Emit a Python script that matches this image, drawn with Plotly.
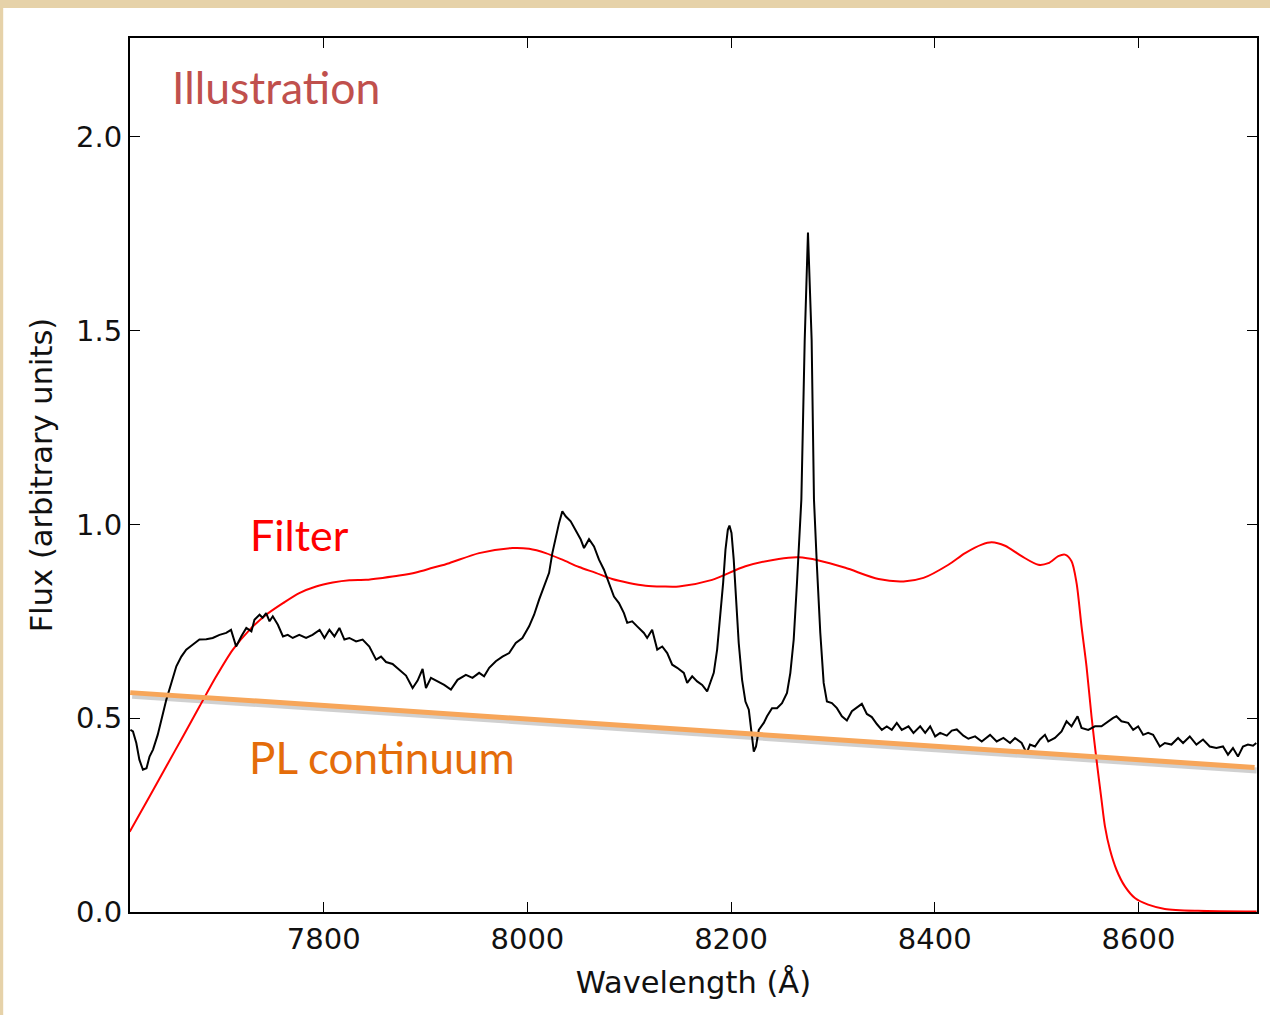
import plotly.graph_objects as go

# ---- Spectrum (black) ----
spec_wave = [7610.2, 7612.7, 7616.0, 7619.0, 7622.5, 7626.0, 7629.0, 7632.4, 7637.0, 7640.6,
             7645.5, 7650.4, 7655.3, 7660.2, 7665.0, 7671.6, 7678.0, 7684.7, 7691.0, 7697.7,
             7704.3, 7709.0, 7714.0, 7719.0, 7724.0, 7729.0, 7732.0, 7737.0, 7740.0, 7743.5,
             7746.8, 7750.0, 7755.0, 7760.0, 7764.7, 7769.6, 7776.0, 7782.7, 7789.0, 7796.0,
             7800.7, 7805.6, 7810.5, 7815.4, 7820.3, 7825.2, 7831.8, 7838.2, 7844.8, 7851.4,
             7856.3, 7861.2, 7867.6, 7874.2, 7880.8, 7887.3, 7892.2, 7897.1, 7900.4, 7905.3,
             7911.8, 7918.3, 7924.9, 7931.4, 7939.6, 7946.1, 7952.6, 7957.5, 7962.5, 7969.0,
             7975.5, 7982.1, 7988.6, 7995.1, 8001.7, 8006.6, 8011.5, 8016.4, 8021.3, 8024.5,
             8027.8, 8031.1, 8034.3, 8037.6, 8042.5, 8047.5, 8052.4, 8055.6, 8060.5, 8065.4,
             8070.3, 8075.2, 8080.1, 8085.0, 8089.9, 8094.8, 8098.0, 8102.9, 8107.8, 8114.4,
             8117.6, 8122.5, 8127.5, 8132.4, 8137.3, 8142.2, 8147.1, 8153.6, 8156.9, 8161.8,
             8166.7, 8171.6, 8176.5, 8179.8, 8183.0, 8186.3, 8189.6, 8192.2, 8194.5, 8196.8,
             8198.4, 8200.4, 8202.6, 8204.9, 8207.5, 8210.8, 8214.1, 8217.4, 8220.0, 8222.3,
             8224.5, 8227.2, 8232.1, 8235.3, 8240.2, 8245.1, 8250.0, 8254.9, 8258.2, 8261.5,
             8264.7, 8267.1, 8269.0, 8272.3, 8275.5, 8279.1, 8281.4, 8284.3, 8287.6, 8290.9,
             8294.1, 8299.0, 8303.9, 8308.8, 8313.7, 8318.6, 8323.5, 8328.4, 8333.3, 8338.2,
             8343.1, 8348.0, 8352.9, 8357.8, 8362.7, 8367.6, 8374.2, 8379.1, 8385.7, 8390.6,
             8395.5, 8400.4, 8405.3, 8411.8, 8416.7, 8421.6, 8428.1, 8433.0, 8439.6, 8446.1,
             8454.3, 8460.8, 8467.4, 8473.9, 8478.8, 8485.3, 8490.2, 8493.5, 8498.4, 8503.3,
             8508.2, 8511.5, 8518.0, 8524.5, 8529.4, 8534.3, 8540.2, 8544.1, 8550.7, 8557.3,
             8563.7, 8570.3, 8575.2, 8578.4, 8583.3, 8589.9, 8594.8, 8599.7, 8604.6, 8609.5,
             8614.4, 8621.0, 8625.9, 8632.4, 8638.9, 8643.8, 8650.4, 8656.9, 8663.4, 8670.0,
             8676.5, 8683.0, 8687.9, 8692.8, 8697.7, 8702.6, 8707.5, 8712.5, 8715.7]
spec_flux = [0.470, 0.466, 0.436, 0.393, 0.367, 0.371, 0.401, 0.419, 0.457, 0.496,
             0.548, 0.591, 0.634, 0.659, 0.677, 0.690, 0.703, 0.704, 0.707, 0.715,
             0.720, 0.728, 0.685, 0.711, 0.733, 0.724, 0.754, 0.767, 0.759, 0.771,
             0.750, 0.763, 0.741, 0.711, 0.715, 0.707, 0.715, 0.707, 0.715, 0.728,
             0.707, 0.728, 0.711, 0.733, 0.703, 0.707, 0.698, 0.703, 0.685, 0.651,
             0.659, 0.645, 0.640, 0.625, 0.610, 0.578, 0.597, 0.627, 0.578, 0.604,
             0.595, 0.586, 0.574, 0.599, 0.612, 0.604, 0.617, 0.608, 0.630, 0.647,
             0.659, 0.668, 0.694, 0.707, 0.737, 0.767, 0.806, 0.840, 0.875, 0.926,
             0.969, 1.004, 1.034, 1.021, 1.008, 0.986, 0.961, 0.939, 0.962, 0.943,
             0.909, 0.883, 0.849, 0.814, 0.797, 0.771, 0.746, 0.750, 0.737, 0.720,
             0.707, 0.728, 0.677, 0.685, 0.668, 0.638, 0.630, 0.617, 0.591, 0.608,
             0.595, 0.586, 0.569, 0.595, 0.617, 0.677, 0.763, 0.849, 0.935, 0.986,
             0.997, 0.978, 0.909, 0.806, 0.694, 0.599, 0.543, 0.522, 0.462, 0.414,
             0.427, 0.470, 0.488, 0.505, 0.526, 0.526, 0.539, 0.565, 0.617, 0.703,
             0.849, 0.978, 1.064, 1.476, 1.753, 1.476, 1.064, 0.892, 0.720, 0.591,
             0.543, 0.539, 0.526, 0.505, 0.494, 0.518, 0.528, 0.537, 0.511, 0.503,
             0.485, 0.470, 0.479, 0.470, 0.488, 0.470, 0.479, 0.462, 0.479, 0.462,
             0.479, 0.453, 0.462, 0.455, 0.468, 0.471, 0.455, 0.447, 0.453, 0.440,
             0.457, 0.440, 0.449, 0.436, 0.449, 0.436, 0.410, 0.432, 0.427, 0.445,
             0.457, 0.440, 0.449, 0.466, 0.492, 0.479, 0.505, 0.475, 0.470, 0.479,
             0.479, 0.492, 0.501, 0.505, 0.492, 0.488, 0.470, 0.479, 0.457, 0.462,
             0.457, 0.427, 0.436, 0.432, 0.449, 0.436, 0.453, 0.432, 0.445, 0.427,
             0.423, 0.427, 0.406, 0.423, 0.401, 0.427, 0.432, 0.429, 0.436]

# ---- Filter transmission (red) ----
filt_wave = [7609.5, 7629.0, 7645.5, 7661.8, 7678.0, 7694.5, 7710.8, 7727.2, 7743.5, 7760.0,
             7776.0, 7792.5, 7808.8, 7825.2, 7841.6, 7857.8, 7874.2, 7890.6, 7906.9, 7923.2,
             7952.6, 7985.3, 8001.7, 8018.0, 8034.3, 8050.7, 8067.1, 8083.3, 8099.7, 8116.1,
             8132.4, 8148.7, 8181.4, 8214.1, 8246.8, 8266.4, 8286.0, 8312.2, 8344.8, 8369.3,
             8388.9, 8413.4, 8429.8, 8446.1, 8455.9, 8469.0, 8485.3, 8501.7, 8511.5, 8521.3,
             8527.8, 8534.3, 8539.2, 8544.1, 8549.0, 8553.9, 8558.8, 8563.7, 8567.1, 8572.0,
             8578.4, 8586.7, 8596.5, 8609.5, 8625.9, 8658.5, 8716.0]
filt_flux = [0.207, 0.298, 0.376, 0.453, 0.530, 0.608, 0.677, 0.728, 0.767, 0.797,
             0.823, 0.840, 0.850, 0.856, 0.857, 0.862, 0.868, 0.876, 0.888, 0.900,
             0.926, 0.939, 0.937, 0.926, 0.909, 0.890, 0.875, 0.859, 0.849, 0.842,
             0.840, 0.840, 0.857, 0.892, 0.911, 0.915, 0.907, 0.888, 0.859, 0.853,
             0.862, 0.896, 0.926, 0.948, 0.954, 0.945, 0.918, 0.896, 0.900, 0.918,
             0.922, 0.905, 0.849, 0.737, 0.634, 0.505, 0.393, 0.290, 0.221, 0.161,
             0.109, 0.066, 0.036, 0.019, 0.008, 0.003, 0.001]

# ---- Power-law continuum (orange) ----
pl_wave = [7610.0, 8714.0]
pl_flux = [0.566, 0.373]

x_ticks = [7800, 8000, 8200, 8400, 8600]
y_ticks = [0.0, 0.5, 1.0, 1.5, 2.0]

fig = go.Figure()

# soft shadow under the continuum line
fig.add_trace(go.Scatter(x=[w + 2 for w in pl_wave], y=[f - 0.008 for f in pl_flux],
                         mode="lines", line=dict(color="rgba(120,120,120,0.35)", width=6),
                         hoverinfo="skip"))
fig.add_trace(go.Scatter(x=filt_wave, y=filt_flux, mode="lines",
                         line=dict(color="#ff0000", width=2, shape="spline", smoothing=0.8)))
fig.add_trace(go.Scatter(x=spec_wave, y=spec_flux, mode="lines",
                         line=dict(color="black", width=2)))
fig.add_trace(go.Scatter(x=pl_wave, y=pl_flux, mode="lines",
                         line=dict(color="#f7a65a", width=5)))

axis_common = dict(showline=True, linecolor="black", linewidth=2, mirror="ticks",
                   ticks="inside", ticklen=10, tickwidth=1, tickcolor="black",
                   showgrid=False, zeroline=False,
                   tickfont=dict(family="DejaVu Sans", size=29, color="#111111"))

fig.update_xaxes(range=[7609.8, 8716.4], tickvals=x_ticks,
                 title=dict(text="Wavelength (Å)", font=dict(family="DejaVu Sans", size=30.5, color="#111111"),
                            standoff=17),
                 **axis_common)
fig.update_yaxes(range=[0, 2.255], tickvals=y_ticks, tickformat=".1f",
                 title=dict(text="Flux (arbitrary units)", font=dict(family="DejaVu Sans", size=30.5, color="#111111"),
                            standoff=14),
                 **axis_common)

fig.add_annotation(x=7648.8, y=2.129, xref="x", yref="y", text="Illustration", showarrow=False,
                   xanchor="left", yanchor="middle",
                   font=dict(family="Lato", size=44.5, color="#c0504d"))
fig.add_annotation(x=7726.0, y=0.975, xref="x", yref="y", text="Filter", showarrow=False,
                   xanchor="left", yanchor="middle",
                   font=dict(family="Lato", size=43, color="#ff0000"))
fig.add_annotation(x=7725.0, y=0.400, xref="x", yref="y", text="PL continuum", showarrow=False,
                   xanchor="left", yanchor="middle",
                   font=dict(family="Lato", size=44, color="#e46c0a"))

# white page over a parchment-coloured border (top and left)
fig.add_shape(type="rect", xref="paper", yref="paper",
              x0=-0.1125, x1=1.03, y0=-0.14, y1=1.0343,
              fillcolor="white", line=dict(width=0), layer="below")

fig.update_layout(width=1270, height=1015, margin=dict(l=130, r=11, t=38, b=103),
                  paper_bgcolor="#e6d2a9", plot_bgcolor="white", showlegend=False)

fig.write_html("out.html")
